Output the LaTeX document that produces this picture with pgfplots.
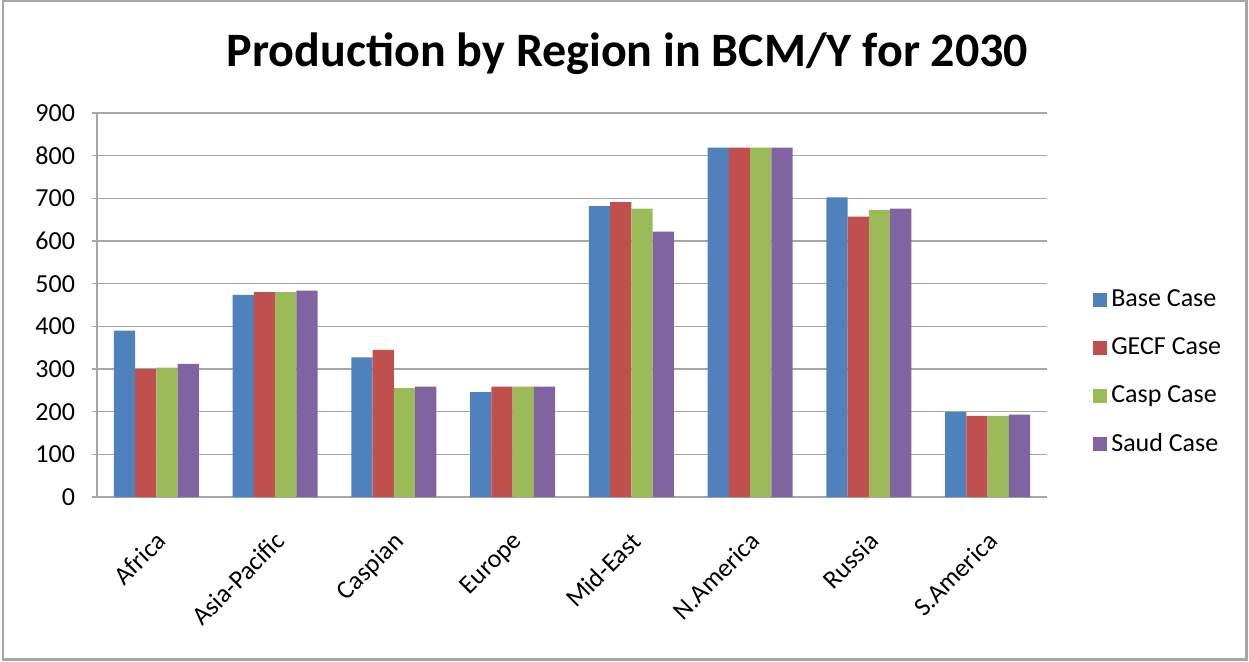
\documentclass[border=0pt]{standalone}
\usepackage{fontspec}
\setmainfont{Carlito}
\usepackage{pgfplots}
\pgfplotsset{compat=1.18}
\definecolor{cblue}{HTML}{4F81BD}
\definecolor{cred}{HTML}{C0504D}
\definecolor{cgreen}{HTML}{9BBB59}
\definecolor{cpurple}{HTML}{8064A2}
\definecolor{gridc}{HTML}{A6A6A6}
\begin{document}
\begin{tikzpicture}
\useasboundingbox (0,0) rectangle (624.5pt,330.5pt);
\draw[gridc, line width=1.2pt] (1.5pt,0.8pt) rectangle (623.2pt,330pt);
\node[anchor=base, font=\fontsize{24}{29}\selectfont\bfseries] at (313.75pt,297.1pt) {Production by Region in BCM/Y for 2030};
\begin{axis}[
  at={(48.5pt,82pt)}, anchor=south west,
  scale only axis, width=475pt, height=192pt,
  ybar=0pt, bar width=10.65pt,
  xmin=-0.5, xmax=7.5, ymin=0, ymax=900,
  ytick={0,100,...,900},
  xtick={0,1,2,3,4,5,6,7},
  xticklabels={Africa,Asia-Pacific,Caspian,Europe,Mid-East,N.America,Russia,S.America},
  x tick label style={rotate=45, anchor=north east, font=\fontsize{13}{15}\selectfont, yshift=-6pt, xshift=-7pt},
  y tick label style={font=\fontsize{13}{15}\selectfont, xshift=-5pt},
  /pgf/number format/assume math mode=true,
  axis x line*=bottom, axis y line*=left,
  axis line style={gridc, line width=0.8pt},
  x tick style={draw=none},
  y tick style={gridc, line width=0.8pt},
  ytick align=outside, major tick length=2.5pt,
  ymajorgrids, grid style={gridc, line width=0.8pt},
  legend style={at={(1.042,0.325)}, anchor=west, draw=none, fill=none,
    font=\fontsize{13}{15}\selectfont, row sep=10pt},
  legend cell align=left,
  legend image code/.code={\fill[#1] (-2pt,-3.5pt) rectangle (5pt,3.5pt);},
]
\addplot[fill=cblue, draw=none] coordinates {(0,390) (1,474) (2,327) (3,246) (4,682) (5,819) (6,702) (7,199)};
\addplot[fill=cred, draw=none] coordinates {(0,300) (1,480) (2,345) (3,259) (4,691) (5,819) (6,657) (7,190)};
\addplot[fill=cgreen, draw=none] coordinates {(0,303) (1,480) (2,255) (3,259) (4,676) (5,819) (6,673) (7,190)};
\addplot[fill=cpurple, draw=none] coordinates {(0,312) (1,484) (2,259) (3,259) (4,622) (5,819) (6,676) (7,193)};
\legend{Base Case, GECF Case, Casp Case, Saud Case}
\end{axis}
\end{tikzpicture}
\end{document}
